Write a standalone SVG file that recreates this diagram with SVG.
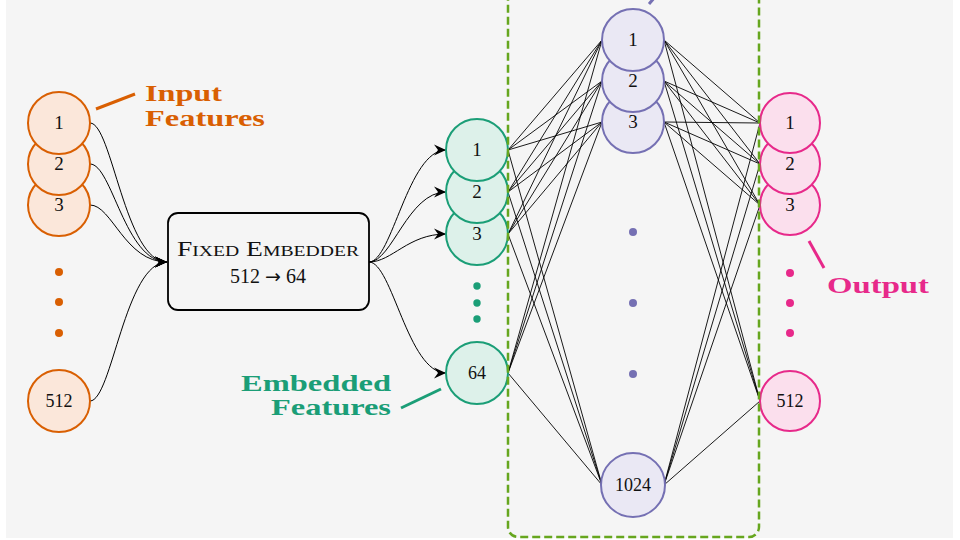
<svg xmlns="http://www.w3.org/2000/svg" width="960" height="540" viewBox="0 0 960 540">
<defs>
<marker id="arr" markerUnits="userSpaceOnUse" markerWidth="16" markerHeight="14" viewBox="-14 -7 16 14" refX="0" refY="0" orient="auto">
<path d="M0,0 L-12,-5.5 L-8,0 L-12,5.5 Z" fill="#000"/>
</marker>
<style>
text{font-family:"Liberation Serif","DejaVu Serif",serif;fill:#111}
.nl{font-size:19px;text-anchor:middle}
.in circle{fill:#fbe7da;stroke:#d95f02;stroke-width:2}
.em circle{fill:#ddf1ea;stroke:#1b9e77;stroke-width:2}
.hd circle{fill:#eae8f4;stroke:#7570b3;stroke-width:2}
.out circle{fill:#fbdfed;stroke:#e7298a;stroke-width:2}
.w{fill:none;stroke:#000;stroke-width:0.9}
.cv{fill:none;stroke:#000;stroke-width:1}
.lab{font-weight:bold;font-size:24px}
</style>
</defs>
<rect x="6" y="0" width="947" height="538" fill="#f5f5f5"/>

<g id="connectors">
<g class="cv">
<path d="M90,123 C112,123 125,262 167,262" marker-end="url(#arr)"/>
<path d="M90,164 C112,164 125,262 167,262" marker-end="url(#arr)"/>
<path d="M90,205 C112,205 125,262 167,262" marker-end="url(#arr)"/>
<path d="M90,401 C112,401 125,262 167,262" marker-end="url(#arr)"/>
<path d="M369,262 C392,262 408,150 446,150" marker-end="url(#arr)"/>
<path d="M369,262 C392,262 408,192 446,192" marker-end="url(#arr)"/>
<path d="M369,262 C392,262 408,234 446,234" marker-end="url(#arr)"/>
<path d="M369,262 C392,262 408,373 446,373" marker-end="url(#arr)"/>
</g>
<g class="w">
<path d="M508,150 L602,40 M508,150 L602,81 M508,150 L602,122 M508,150 L602,485"/>
<path d="M508,192 L602,40 M508,192 L602,81 M508,192 L602,122 M508,192 L602,485"/>
<path d="M508,234 L602,40 M508,234 L602,81 M508,234 L602,122 M508,234 L602,485"/>
<path d="M508,373 L602,40 M508,373 L602,81 M508,373 L602,122 M508,373 L602,485"/>
<path d="M664,40 L760,123 M664,40 L760,164 M664,40 L760,205 M664,40 L760,401"/>
<path d="M664,81 L760,123 M664,81 L760,164 M664,81 L760,205 M664,81 L760,401"/>
<path d="M664,122 L760,123 M664,122 L760,164 M664,122 L760,205 M664,122 L760,401"/>
<path d="M664,485 L760,123 M664,485 L760,164 M664,485 L760,205 M664,485 L760,401"/>
</g>
</g>

<g id="input-layer" class="in">
<circle cx="59" cy="205" r="31"/><text class="nl" x="59" y="211">3</text>
<circle cx="59" cy="164" r="31"/><text class="nl" x="59" y="170">2</text>
<circle cx="59" cy="123" r="31"/><text class="nl" x="59" y="129">1</text>
<circle cx="59" cy="272" r="4" style="fill:#d95f02;stroke:none"/>
<circle cx="59" cy="302" r="4" style="fill:#d95f02;stroke:none"/>
<circle cx="59" cy="333" r="4" style="fill:#d95f02;stroke:none"/>
<circle cx="59" cy="401" r="31"/><text class="nl" x="59" y="407" style="font-size:18px">512</text>
</g>

<g id="embedder">
<rect x="168" y="213" width="201" height="97" rx="10" fill="#f5f5f5" stroke="#000" stroke-width="1.8"/>
<text x="268" y="256" text-anchor="middle" style="font-size:21px;font-variant:small-caps" textLength="182" lengthAdjust="spacingAndGlyphs">Fixed Embedder</text>
<text x="268" y="283" text-anchor="middle" style="font-size:20px">512 <tspan style="font-family:'DejaVu Sans',sans-serif;font-size:19px">→</tspan> 64</text>
</g>

<g id="embedded-layer" class="em">
<circle cx="477" cy="234" r="31"/><text class="nl" x="477" y="240">3</text>
<circle cx="477" cy="192" r="31"/><text class="nl" x="477" y="198">2</text>
<circle cx="477" cy="150" r="31"/><text class="nl" x="477" y="156">1</text>
<circle cx="477" cy="286" r="3.7" style="fill:#1b9e77;stroke:none"/>
<circle cx="477" cy="303" r="3.7" style="fill:#1b9e77;stroke:none"/>
<circle cx="477" cy="319" r="3.7" style="fill:#1b9e77;stroke:none"/>
<circle cx="477" cy="373" r="31"/><text class="nl" x="477" y="379" style="font-size:18px">64</text>
</g>

<g id="hidden-layer" class="hd">
<circle cx="633" cy="122" r="31"/><text class="nl" x="633" y="128">3</text>
<circle cx="633" cy="81" r="31"/><text class="nl" x="633" y="87">2</text>
<circle cx="633" cy="40" r="31"/><text class="nl" x="633" y="46">1</text>
<circle cx="633" cy="232" r="4" style="fill:#7570b3;stroke:none"/>
<circle cx="633" cy="303" r="4" style="fill:#7570b3;stroke:none"/>
<circle cx="633" cy="374" r="4" style="fill:#7570b3;stroke:none"/>
<circle cx="633" cy="485" r="32"/><text class="nl" x="633" y="491" style="font-size:18px">1024</text>
</g>

<g id="output-layer" class="out">
<circle cx="790" cy="205" r="30"/><text class="nl" x="790" y="211">3</text>
<circle cx="790" cy="164" r="30"/><text class="nl" x="790" y="170">2</text>
<circle cx="790" cy="123" r="30"/><text class="nl" x="790" y="129">1</text>
<circle cx="790" cy="273" r="4" style="fill:#e7298a;stroke:none"/>
<circle cx="790" cy="303" r="4" style="fill:#e7298a;stroke:none"/>
<circle cx="790" cy="333" r="4" style="fill:#e7298a;stroke:none"/>
<circle cx="790" cy="401" r="30"/><text class="nl" x="790" y="407" style="font-size:18px">512</text>
</g>

<g id="hidden-box">
<rect x="508" y="-20" width="251" height="557" rx="10" fill="none" stroke="#66a61e" stroke-width="2.5" stroke-dasharray="8,4"/>
</g>

<g id="labels">
<line x1="96" y1="109" x2="135" y2="94" stroke="#d95f02" stroke-width="3"/>
<text class="lab" x="145" y="101" style="fill:#d95f02" textLength="77" lengthAdjust="spacingAndGlyphs">Input</text>
<text class="lab" x="145" y="126" style="fill:#d95f02" textLength="120" lengthAdjust="spacingAndGlyphs">Features</text>
<line x1="401" y1="408" x2="441" y2="389" stroke="#1b9e77" stroke-width="3"/>
<text class="lab" x="241" y="391" style="fill:#1b9e77" textLength="150" lengthAdjust="spacingAndGlyphs">Embedded</text>
<text class="lab" x="271" y="415" style="fill:#1b9e77" textLength="120" lengthAdjust="spacingAndGlyphs">Features</text>
<line x1="809" y1="241" x2="824" y2="268" stroke="#e7298a" stroke-width="3"/>
<text class="lab" x="827" y="293" style="fill:#e7298a" textLength="102" lengthAdjust="spacingAndGlyphs">Output</text>
<line x1="655" y1="-3" x2="649" y2="4" stroke="#7570b3" stroke-width="3"/>
</g>
</svg>
